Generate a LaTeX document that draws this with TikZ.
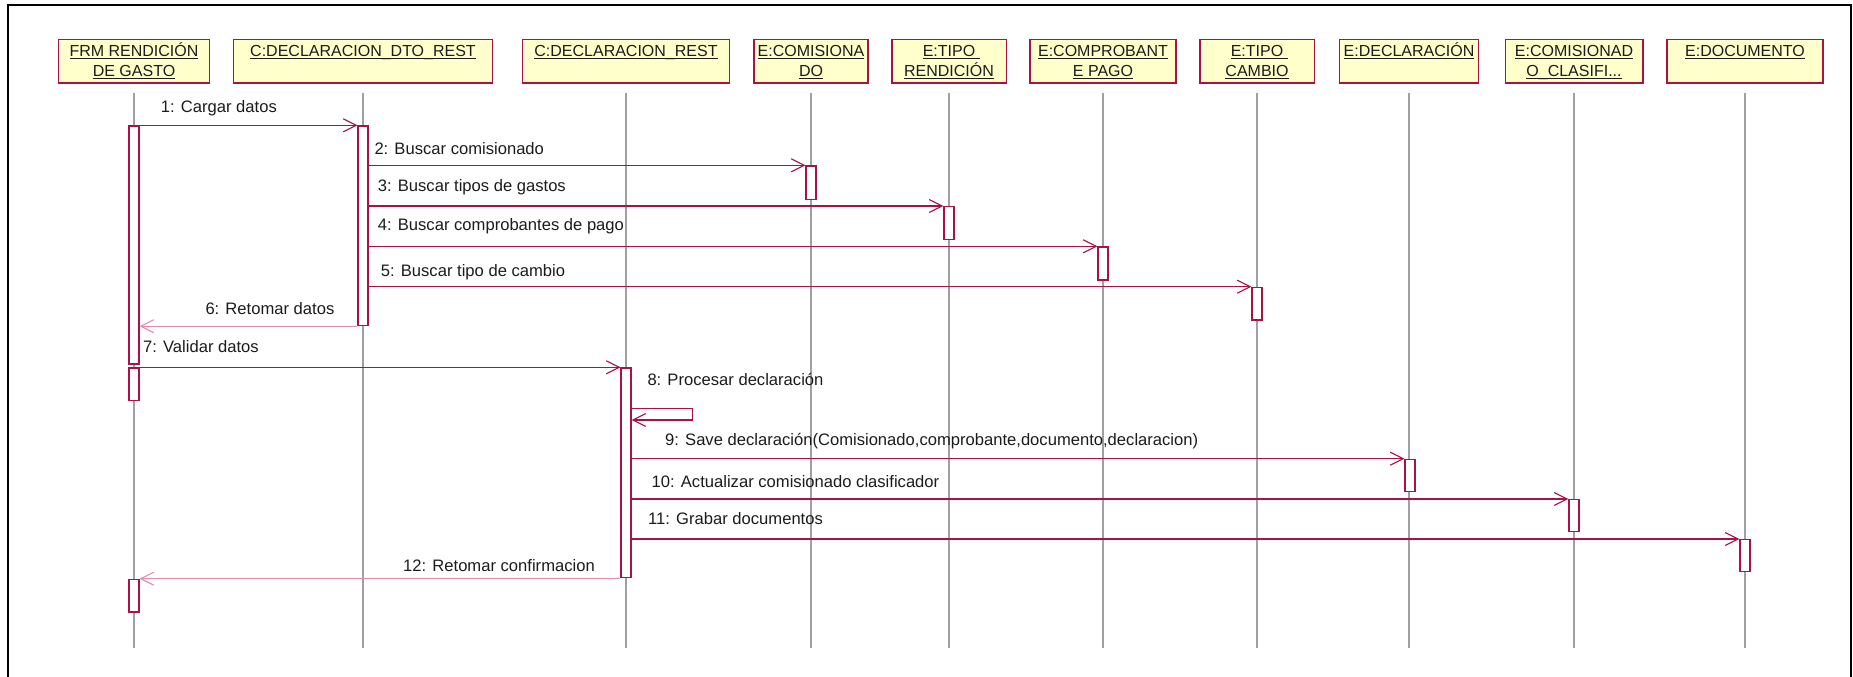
\documentclass[tikz,border=0pt]{standalone}
\usepackage{fontspec}
\setmainfont{Liberation Sans}
\usetikzlibrary{arrows.meta}

\definecolor{umlred}{RGB}{168,18,68}
\definecolor{umlret}{RGB}{224,140,166}
\definecolor{umlfill}{RGB}{255,255,204}
\definecolor{lifegray}{RGB}{160,160,160}
\definecolor{ink}{RGB}{28,28,28}

% underlined object name with the rule at a fixed depth
\newlength\hdrw
\newcommand\hdrul[1]{\settowidth\hdrw{#1}\rlap{\rule[-2.7pt]{\hdrw}{1pt}}#1}
\newcommand\firstline{\rule{0pt}{15pt}}

\tikzset{
  obj/.style={draw=umlred, fill=umlfill, line width=1.3pt, minimum height=43.7pt, inner sep=0pt},
  objtext/.style={anchor=north, align=center, inner sep=0pt, text=ink,
                  font=\fontsize{16}{20}\selectfont},
  lifeline/.style={draw=lifegray, line width=1.3pt},
  act/.style={draw=umlred, fill=white, line width=1.2pt, anchor=north,
              minimum width=10pt, inner sep=0pt},
  msg/.style={draw=umlred, line width=1.1pt,
              -{Straight Barb[length=13pt,width=13pt,line width=1.1pt]}},
  ret/.style={draw=umlret, line width=1.1pt,
              -{Straight Barb[length=13pt,width=13pt,line width=1.1pt]}},
  lbl/.style={anchor=base west, inner sep=0pt, text=ink,
              font=\fontsize{16.6}{20}\selectfont},
}

\begin{document}
\begin{tikzpicture}[x=1pt, y=-1pt]
\useasboundingbox (0,0) rectangle (1853,677);
\clip (0,0) rectangle (1853,677);
\fill[white] (0,0) rectangle (1853,677);

% outer frame
\draw[line width=2.6pt, black] (8,5) rectangle (1851,700);

% object headers
\node[obj, minimum width=151.5pt] (o1) at (134,61.2) {};
\node[obj, minimum width=259.4pt] (o2) at (363,61.2) {};
\node[obj, minimum width=206.6pt] (o3) at (626,61.2) {};
\node[obj, minimum width=114.2pt] (o4) at (811,61.2) {};
\node[obj, minimum width=114.3pt] (o5) at (949,61.2) {};
\node[obj, minimum width=145.9pt] (o6) at (1103,61.2) {};
\node[obj, minimum width=114.3pt] (o7) at (1257,61.2) {};
\node[obj, minimum width=138.9pt] (o8) at (1409,61.2) {};
\node[obj, minimum width=137.7pt] (o9) at (1574,61.2) {};
\node[obj, minimum width=155.8pt] (o10) at (1745,61.2) {};

\node[objtext] (t1) at ([yshift=-2.4pt]o1.north) {\firstline\hdrul{FRM RENDICIÓN}\\\hdrul{DE GASTO}};
\node[objtext] (t2) at ([yshift=-2.4pt]o2.north) {\firstline\hdrul{C:DECLARACION\_DTO\_REST}};
\node[objtext] (t3) at ([yshift=-2.4pt]o3.north) {\firstline\hdrul{C:DECLARACION\_REST}};
\node[objtext] (t4) at ([yshift=-2.4pt]o4.north) {\firstline\hdrul{E:COMISIONA}\\\hdrul{DO}};
\node[objtext] (t5) at ([yshift=-2.4pt]o5.north) {\firstline\hdrul{E:TIPO\ }\\\hdrul{RENDICIÓN}};
\node[objtext] (t6) at ([yshift=-2.4pt]o6.north) {\firstline\hdrul{E:COMPROBANT}\\\hdrul{E PAGO}};
\node[objtext] (t7) at ([yshift=-2.4pt]o7.north) {\firstline\hdrul{E:TIPO\ }\\\hdrul{CAMBIO}};
\node[objtext] (t8) at ([yshift=-2.4pt]o8.north) {\firstline\hdrul{E:DECLARACIÓN}};
\node[objtext] (t9) at ([yshift=-2.4pt]o9.north) {\firstline\hdrul{E:COMISIONAD}\\\hdrul{O\_CLASIFI...}};
\node[objtext] (t10) at ([yshift=-2.4pt]o10.north) {\firstline\hdrul{E:DOCUMENTO}};

% lifelines
\coordinate (bottom) at (0,647.7);
\foreach \o in {o1,o2,o3,o4,o5,o6,o7,o8,o9,o10}
  \draw[lifeline] ([yshift=-9pt]\o.south) -- (\o.south |- bottom);

% activations
\node[act, minimum height=238pt]  (a1a) at (134,125.3) {};
\node[act, minimum height=32.7pt] (a1b) at (134,367.3) {};
\node[act, minimum height=32.6pt] (a1c) at (134,578.7) {};
\node[act, minimum height=199.7pt](a2)  at (363,125.3) {};
\node[act, minimum height=209.4pt](a3)  at (626,367.3) {};
\node[act, minimum height=33.4pt] (a4)  at (811,165.3) {};
\node[act, minimum height=33pt]   (a5)  at (949,206) {};
\node[act, minimum height=33pt]   (a6)  at (1103,246.3) {};
\node[act, minimum height=32.6pt] (a7)  at (1257,286.7) {};
\node[act, minimum height=32pt]   (a8)  at (1410,458.7) {};
\node[act, minimum height=32pt]   (a9)  at (1574,499) {};
\node[act, minimum height=32pt]   (a10) at (1745,539) {};

% messages
\draw[msg] (a1a.north east) -- (a2.north west);
\draw[msg] (a2.east |- a4.north) -- (a4.north west);
\draw[msg] (a2.east |- a5.north) -- (a5.north west);
\draw[msg] (a2.east |- a6.north) -- (a6.north west);
\draw[msg] (a2.east |- a7.north) -- (a7.north west);
\draw[ret] (a2.south west) -- (a1a.east |- a2.south);
\draw[msg] (a1b.north east) -- (a3.north west);
\coordinate (s8a) at (692.3,408.7);
\coordinate (s8b) at (692.3,420);
\draw[msg] (a3.east |- s8a) -- (s8a) -- (s8b) -- (a3.east |- s8b);
\draw[msg] (a3.east |- a8.north) -- (a8.north west);
\draw[msg] (a3.east |- a9.north) -- (a9.north west);
\draw[msg] (a3.east |- a10.north) -- (a10.north west);
\draw[ret] (a3.west |- a1c.north) -- (a1c.north east);

% message labels
\node[lbl] (m1)  at (160.7,112.5) {1: Cargar datos};
\node[lbl] (m2)  at (374.3,154)   {2: Buscar comisionado};
\node[lbl] (m3)  at (377.7,191.7) {3: Buscar tipos de gastos};
\node[lbl] (m4)  at (377.7,230)   {4: Buscar comprobantes de pago};
\node[lbl] (m5)  at (380.7,276)   {5: Buscar tipo de cambio};
\node[lbl] (m6)  at (205.3,314.3) {6: Retomar datos};
\node[lbl] (m7)  at (142.9,352.7) {7: Validar datos};
\node[lbl] (m8)  at (647.3,385.7) {8: Procesar declaración};
\node[lbl] (m9)  at (665,445)     {9: Save declaración(Comisionado,comprobante,documento,declaracion)};
\node[lbl] (m10) at (651.5,487.7) {10: Actualizar comisionado clasificador};
\node[lbl] (m11) at (648,524.3)   {11: Grabar documentos};
\node[lbl] (m12) at (403,571)     {12: Retomar confirmacion};
\end{tikzpicture}
\end{document}
